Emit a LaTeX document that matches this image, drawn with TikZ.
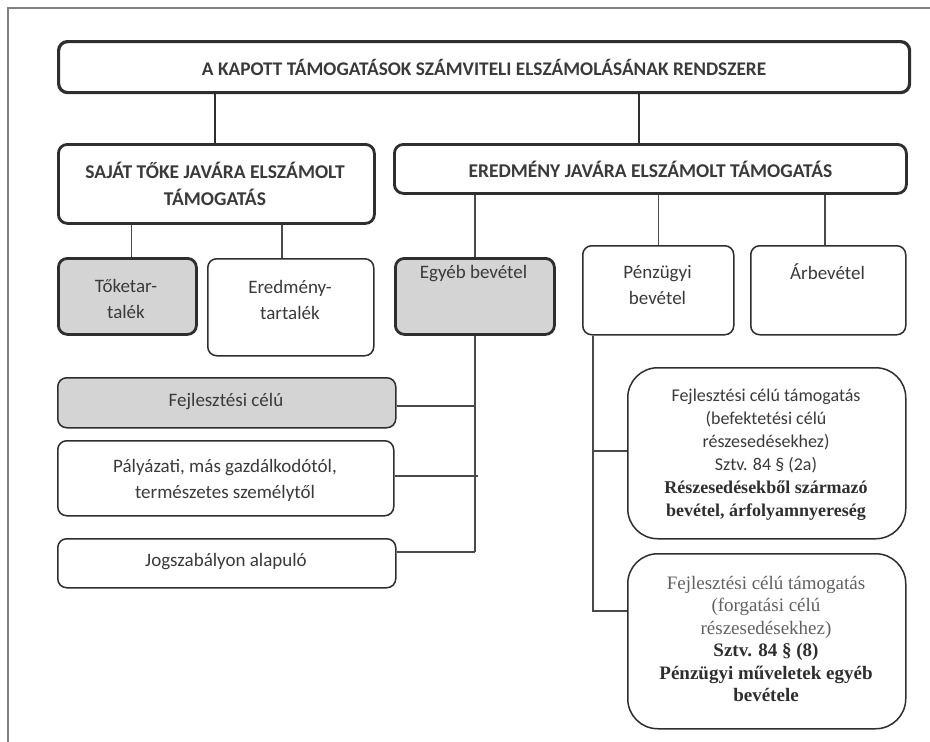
\documentclass[tikz,border=0pt]{standalone}
\usepackage{fontspec}
\setmainfont{Carlito}
\newfontfamily\tnr{Liberation Serif}
\definecolor{bdr}{HTML}{2E2E2E}
\definecolor{lnc}{HTML}{4A4A4A}
\definecolor{txc}{HTML}{3A3A3A}
\definecolor{gfill}{HTML}{D4D4D4}
\definecolor{frame}{HTML}{808080}
\tikzset{
  box/.style={draw=bdr, line width=1.5pt, rounded corners=9pt, inner sep=0pt, anchor=north west, fill=white},
  thickbox/.style={box, line width=2.8pt},
  graybox/.style={fill=gfill},
  bigbox/.style={box, rounded corners=30pt},
  txt/.style={text=txc, align=center, inner sep=0pt, font=\fontsize{19}{26}\selectfont},
  hdr/.style={txt, font=\bfseries\fontsize{19.5}{27}\selectfont},
  conn/.style={draw=lnc, line width=1.5pt},
  tconn/.style={draw=bdr, line width=2.2pt}
}
\begin{document}
\begin{tikzpicture}[x=1pt,y=-1pt]
\useasboundingbox (0,0) rectangle (930,742);
% outer frame (top and left)
\coordinate (fa) at (8,742);
\coordinate (fb) at (8,8);
\coordinate (fc) at (930,8);
\draw[frame, line width=1.2pt] (fa) -- (fb) -- (fc);

% title
\node[thickbox, line width=3.2pt, minimum width=851pt, minimum height=51pt] (title) at (57,40) {};
\node[hdr, font=\bfseries\fontsize{19.3}{22}\selectfont] (titleT) at (title.center) {A KAPOTT TÁMOGATÁSOK SZÁMVITELI ELSZÁMOLÁSÁNAK RENDSZERE};

% level 2
\node[thickbox, minimum width=316pt, minimum height=79pt] (sajat) at (57,143) {};
\node[hdr] (sajatT) at (215,184) {SAJÁT TŐKE JAVÁRA ELSZÁMOLT\\TÁMOGATÁS};
\node[thickbox, minimum width=512pt, minimum height=49pt] (ered) at (393,143) {};
\node[hdr] (eredT) at (ered.center) {EREDMÉNY JAVÁRA ELSZÁMOLT TÁMOGATÁS};

% level 3
\node[thickbox, graybox, minimum width=138pt, minimum height=76pt] (toke) at (57,257) {};
\node[txt] (tokeT) at (126,299) {Tőketar-\\talék};
\node[box, minimum width=166pt, minimum height=97pt] (ertart) at (207,258) {};
\node[txt] (ertartT) at (290,300) {Eredmény-\\tartalék};
\node[thickbox, graybox, minimum width=159pt, minimum height=76pt] (egyeb) at (394,257) {};
\node[txt] (egyebT) at (473.5,274) {Egyéb bevétel};
\node[box, minimum width=151pt, minimum height=89pt] (penz) at (582,245) {};
\node[txt] (penzT) at (657.5,285) {Pénzügyi\\bevétel};
\node[box, minimum width=155pt, minimum height=89pt] (arb) at (750,245) {};
\node[txt] (arbT) at (827.5,272) {Árbevétel};

% left lower boxes
\node[box, graybox, minimum width=338pt, minimum height=50pt] (fejl) at (57,377) {};
\node[txt] (fejlT) at (226,402) {Fejlesztési célú};
\node[box, minimum width=336pt, minimum height=75pt] (paly) at (57,440) {};
\node[txt] (palyT) at (225,480) {Pályázati, más gazdálkodótól,\\természetes személytől};
\node[box, minimum width=338pt, minimum height=49pt] (jog) at (57,538) {};
\node[txt] (jogT) at (226,562) {Jogszabályon alapuló};

% right lower boxes
\node[bigbox, minimum width=278pt, minimum height=171pt] (r1) at (627,367) {};
\node[txt, font=\fontsize{18}{23}\selectfont] (r1T) at (766,455) {Fejlesztési célú támogatás\\(befektetési célú\\részesedésekhez)\\Sztv. 84 § (2a)\\{\tnr\bfseries\color{bdr}Részesedésekből származó}\\{\tnr\bfseries\color{bdr}bevétel, árfolyamnyereség}};
\node[bigbox, minimum width=278pt, minimum height=175pt] (r2) at (627,553) {};
\node[txt, font=\tnr\fontsize{19}{22.5}\selectfont, text=black!62] (r2T) at (766,639) {Fejlesztési célú támogatás\\(forgatási célú\\részesedésekhez)\\{\bfseries\color{bdr}Sztv. 84 § (8)}\\{\bfseries\color{bdr}Pénzügyi műveletek egyéb}\\{\bfseries\color{bdr}bevétele}};

% connectors from title
\draw[tconn] (title.south -| sajatT.north) -- (sajat.north -| sajatT.north);
\coordinate (tR) at (639,91);
\draw[tconn] (tR) -- (tR |- ered.north);

% sajat children
\draw[conn] (sajat.south -| toke.north) ++(4,0) coordinate (sa1) -- (sa1 |- toke.north);
\draw[conn] (sajat.south -| 282,0) -- (ertart.north -| 282,0);

% ered children
\draw[conn] (ered.south -| 475,0) -- (egyeb.north -| 475,0);
\draw[conn] (ered.south -| penz.north) -- (penz.north);
\draw[conn] (ered.south -| 825,0) -- (arb.north -| 825,0);

% egyeb bevétel bar
\coordinate (eb1) at (egyeb.south);
\coordinate (eb2) at (eb1 |- 0,552);
\draw[conn] (eb1) -- (eb2);
\draw[conn] (fejl.east |- 0,406) -- (eb1 |- 0,406);
\draw[conn] (paly.east |- 0,476) -- ([xshift=3pt]eb1 |- 0,476);
\draw[conn] (jog.east |- 0,552) -- (eb2);

% penzugyi bar
\coordinate (pz1) at (penz.south -| 593,0);
\coordinate (pz2) at (593,611);
\draw[conn] (pz1) -- (pz2) -- (r2.west |- pz2);
\draw[conn] (pz1 |- 0,451) -- (r1.west |- 0,451);
\end{tikzpicture}
\end{document}
